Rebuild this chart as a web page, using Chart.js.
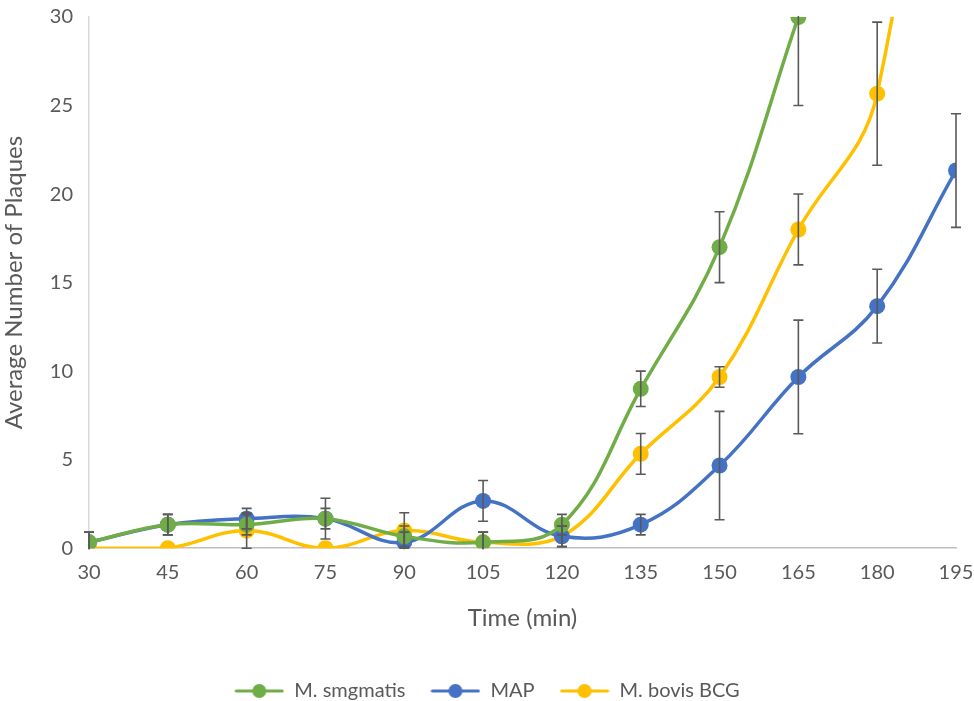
<!DOCTYPE html>
<html><head><meta charset="utf-8">
<script src="https://cdn.jsdelivr.net/npm/chart.js@4"></script>
<style>html,body{margin:0;padding:0;background:#fff}#wrap{width:974px;height:701px}</style>
</head><body><div id="wrap"><canvas id="c"></canvas></div>
<script>
const times = [30,45,60,75,90,105,120,135,150,165,180,195];
const smegmatis = [0.33,1.33,1.33,1.67,0.67,0.33,1.33,9,17,30,null,null];
const smegmatisErr = [0.58,0.58,0.58,1.15,0.58,0.58,0.58,1,2,5,null,null];
const map = [0.33,1.33,1.67,1.67,0.33,2.67,0.67,1.33,4.67,9.67,13.67,21.33];
const mapErr = [0.58,0.58,0.58,0.58,0.58,1.15,0.58,0.58,3.06,3.21,2.08,3.21];
const bcg = [0,0,1,0,1,0.33,0.67,5.33,9.67,18,25.67,60];
const bcgErr = [0,0,1,0,1,0.58,0.58,1.15,0.58,2,4.04,4];
const yTicks = [0,5,10,15,20,25,30];

const FONT = "Lato, 'Open Sans', sans-serif";
const GREY = '#595959';

function pts(vals){ return times.map((t,i)=>({x:t,y:vals[i]})).filter(p=>p.y!==null); }
function legendIcon(color){
  const c=document.createElement('canvas'); c.width=50; c.height=16;
  const g=c.getContext('2d');
  g.strokeStyle=color; g.lineWidth=3; g.lineCap='round';
  g.beginPath(); g.moveTo(2,8); g.lineTo(48,8); g.stroke();
  g.fillStyle=color; g.beginPath(); g.arc(25,8,7,0,Math.PI*2); g.fill();
  return c;
}
const errPlugin = {
  id:'errbars',
  afterDatasetsDraw(chart){
    const ctx=chart.ctx, xs=chart.scales.x, ys=chart.scales.y, a=chart.chartArea;
    const errs=[smegmatisErr,mapErr,bcgErr];
    ctx.save();
    ctx.beginPath(); ctx.rect(a.left-10,a.top-1,a.right-a.left+20,a.bottom-a.top+2); ctx.clip();
    ctx.strokeStyle=GREY; ctx.lineWidth=1.6;
    chart.data.datasets.forEach((ds,di)=>{
      ds.data.forEach((p,i)=>{
        const e=errs[di][times.indexOf(p.x)];
        if(!e) return;
        const x=xs.getPixelForValue(p.x);
        const y1=ys.getPixelForValue(p.y+e), y2=ys.getPixelForValue(p.y-e);
        ctx.beginPath();
        ctx.moveTo(x,y1); ctx.lineTo(x,y2);
        ctx.moveTo(x-5,y1); ctx.lineTo(x+5,y1);
        ctx.moveTo(x-5,y2); ctx.lineTo(x+5,y2);
        ctx.stroke();
      });
    });
    ctx.restore();
  }
};
const mk=(label,vals,color)=>({label,data:pts(vals),borderColor:color,backgroundColor:color,
  borderWidth:3.5,pointRadius:8,pointHoverRadius:8,pointBackgroundColor:color,pointBorderWidth:0,
  tension:0.4,pointStyle:'circle'});
const datasets=[mk('M. smgmatis',smegmatis,'#70ad47'),mk('MAP',map,'#4472c4'),mk('M. bovis BCG',bcg,'#ffc000')];
const icons=['#70ad47','#4472c4','#ffc000'].map(legendIcon);
new Chart(document.getElementById('c'),{
  type:'line',
  data:{datasets},
  plugins:[errPlugin],
  options:{
    responsive:true,maintainAspectRatio:false,animation:false,
    layout:{padding:{left:0,right:0,top:17,bottom:-10}},
    plugins:{
      tooltip:{enabled:false},
      legend:{position:'bottom',
        labels:{usePointStyle:true,pointStyleWidth:50,boxHeight:16,padding:25,color:GREY,
          font:{family:FONT,size:20},
          generateLabels(chart){
            return chart.data.datasets.map((d,i)=>({text:d.label,fillStyle:d.borderColor,strokeStyle:d.borderColor,
              lineWidth:0,pointStyle:icons[i],datasetIndex:i,fontColor:GREY}));
          }}}
    },
    scales:{
      x:{type:'linear',min:30,max:195,
        afterBuildTicks(s){ s.ticks=times.map(v=>({value:v})); },
        afterFit(s){ s.paddingRight=18; s.paddingLeft=0; },
        grid:{display:false,drawTicks:false},
        border:{color:'#bfbfbf',width:1.5},
        ticks:{color:GREY,font:{family:FONT,size:20},padding:12},
        title:{display:true,text:'Time (min)',color:GREY,font:{family:FONT,size:24},padding:{top:8,bottom:23}}},
      y:{min:0,max:30,
        afterBuildTicks(s){ s.ticks=yTicks.map(v=>({value:v})); },
        afterFit(s){ s.width=89; s.paddingTop=0; s.paddingBottom=0; },
        grid:{display:false,drawTicks:false},
        border:{color:'#d9d9d9',width:1.5},
        ticks:{color:GREY,font:{family:FONT,size:20},padding:16},
        title:{display:true,text:'Average Number of Plaques',color:GREY,font:{family:FONT,size:24},padding:{top:0,bottom:2}}}
    }
  }
});
</script></body></html>
